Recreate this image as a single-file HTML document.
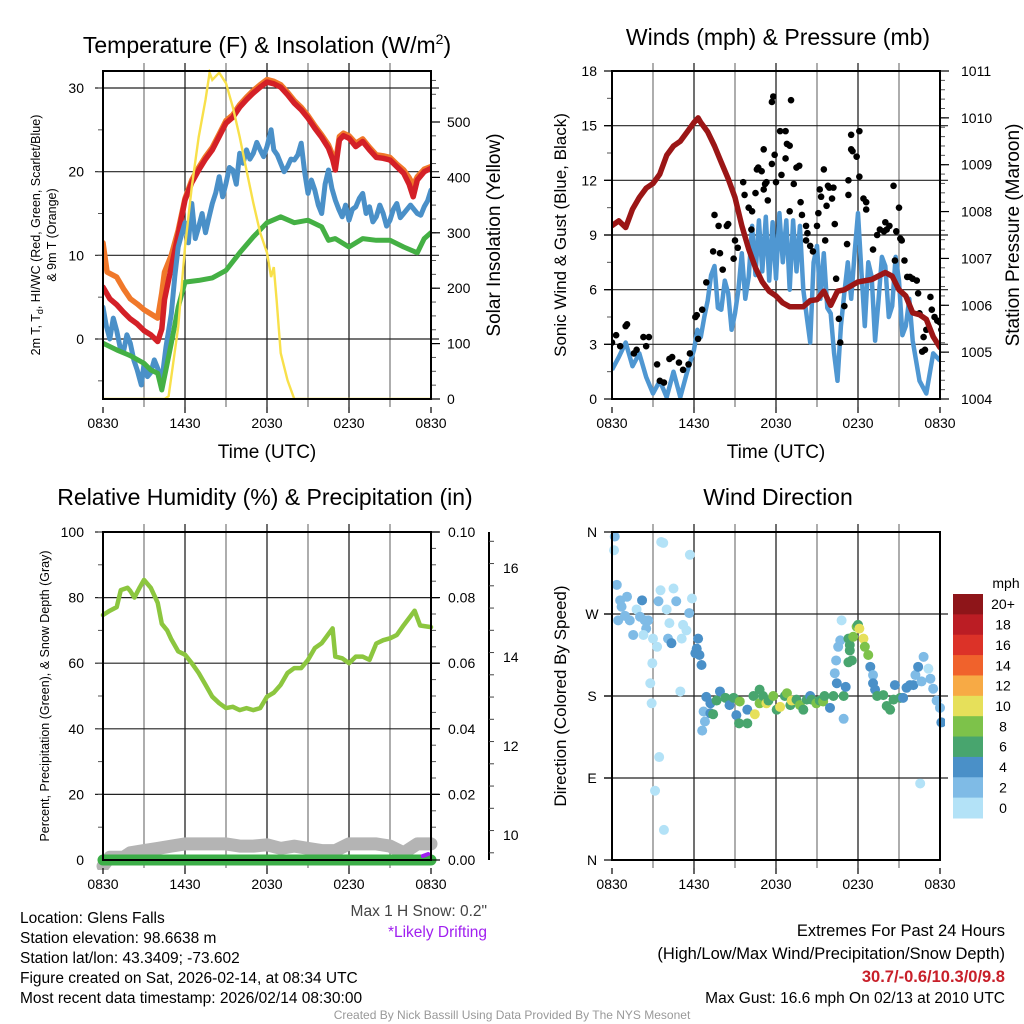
<!DOCTYPE html>
<html><head><meta charset="utf-8"><style>
html,body{margin:0;padding:0;background:#fff;width:1024px;height:1024px;overflow:hidden}
svg text{font-family:"Liberation Sans",sans-serif}
</style></head><body>
<svg id="s" xmlns="http://www.w3.org/2000/svg" width="1024" height="1024" viewBox="0 0 1024 1024">
<g id="g1"></g>
<g id="g2"></g>
<g id="g3"></g>
<g id="g4"></g>
<g id="gt">
<text x="20" y="923" font-size="15.5">Location: Glens Falls</text>
<text x="20" y="943" font-size="15.5">Station elevation: 98.6638 m</text>
<text x="20" y="963" font-size="15.5">Station lat/lon: 43.3409; -73.602</text>
<text x="20" y="983" font-size="15.5">Figure created on Sat, 2026-02-14, at 08:34 UTC</text>
<text x="20" y="1003" font-size="15.5">Most recent data timestamp: 2026/02/14 08:30:00</text>
<text x="487" y="916" font-size="15.5" fill="#444" text-anchor="end">Max 1 H Snow: 0.2"</text>
<text x="487" y="937" font-size="15.5" fill="#a020f0" text-anchor="end">*Likely Drifting</text>
<text x="1005" y="936" font-size="16.5" text-anchor="end">Extremes For Past 24 Hours</text>
<text x="1005" y="959" font-size="16.5" text-anchor="end">(High/Low/Max Wind/Precipitation/Snow Depth)</text>
<text x="1005" y="982" font-size="16.5" font-weight="bold" fill="#c8202a" text-anchor="end">30.7/-0.6/10.3/0/9.8</text>
<text x="1005" y="1003" font-size="15.5" text-anchor="end">Max Gust: 16.6 mph On 02/13 at 2010 UTC</text>
<text x="512" y="1019" font-size="12" fill="#999" text-anchor="middle">Created By Nick Bassill Using Data Provided By The NYS Mesonet</text>
</g>
</svg>
<script>
// ---------- Panel 1 data ----------
const redHours=[0,0.5,1,1.5,2,2.5,3,3.5,4,4.3,4.5,5,5.5,6,6.5,7,7.5,8,8.5,9,9.5,10,10.5,11,11.5,12,12.5,13,13.5,14,14.5,15,15.5,16,16.5,16.8,17,17.3,17.6,18,18.5,19,19.5,20,20.5,21,21.5,22,22.4,22.7,23,23.5,24];
const redVals=[6.2,4.8,4.1,3.2,2.4,1.8,1.0,0.5,-0.3,1.2,4.7,8.6,12.5,16.6,18.7,20.2,21.5,22.6,24.2,25.8,26.5,27.7,28.6,29.4,30.1,30.7,30.5,30.1,29.2,28.2,27.4,26.4,25.2,24.1,22.8,21.5,20.2,23.8,24.3,24.0,23.0,23.6,22.6,21.7,21.6,21.4,20.6,19.8,18.5,17.0,19.0,20.0,20.4];
const orangeHours=[0,0.3,1,1.5,2,2.5,3,3.5,4,4.3,4.5,5,5.5,6,6.5,7,7.5,8,8.5,9,9.5,10,10.5,11,11.5,12,12.5,13,13.5,14,14.5,15,15.5,16,16.5,16.8,17,17.3,17.6,18,18.5,19,19.5,20,20.5,21,21.5,22,22.4,22.7,23,23.5,24];
const orangeVals=[11.5,8.0,7.4,6.0,4.8,4.2,3.5,3.0,2.5,5.5,8.0,10.0,13.0,16.8,19.0,20.5,21.8,22.9,24.5,26.1,26.8,28.0,28.9,29.7,30.4,31.0,30.8,30.4,29.5,28.5,27.7,26.7,25.5,24.4,23.2,22.0,21.0,24.2,24.6,24.3,23.4,23.9,22.9,22.0,21.9,21.7,20.9,20.2,19.3,18.4,19.4,20.3,20.6];
const blueHours=[0,0.25,0.5,0.75,1,1.25,1.5,1.75,2,2.25,2.5,2.8,3,3.25,3.5,3.75,4,4.3,4.6,5,5.25,5.5,5.75,6,6.25,6.5,6.75,7,7.25,7.5,7.75,8,8.25,8.5,8.75,9,9.25,9.5,9.75,10,10.25,10.5,10.75,11,11.25,11.5,11.75,12,12.3,12.5,12.75,13,13.25,13.5,13.75,14,14.25,14.5,14.75,15,15.25,15.5,15.75,16,16.25,16.5,16.75,17,17.25,17.5,17.75,18,18.25,18.5,18.75,19,19.25,19.5,19.75,20,20.25,20.5,20.75,21,21.25,21.5,21.75,22,22.5,23,23.25,23.5,23.75,24];
const blueVals=[3.8,1.5,0,2.5,1.0,-1.0,-1.5,0.5,-0.5,-2.5,-3.7,-5.5,-3.0,-4.5,-4.0,-2.5,-3.5,-5.0,-1.0,3.0,7.5,11.0,12.5,13.9,11.5,16.2,12.0,13.4,15.0,12.7,14.5,16.2,17.5,19.4,17.0,18.6,20.5,20.2,18.5,22.2,21.0,22.6,21.5,22.2,23.5,22.6,21.8,23.0,25.0,22.6,22.0,21.0,20.0,20.6,21.5,21.4,22.0,23.4,20.0,17.4,19.0,17.8,16.0,15.0,18.5,20.2,18.0,16.6,15.5,14.6,16.0,14.2,15.5,15.8,16.8,17.4,15.0,15.8,14.0,14.6,16.0,15.0,13.5,14.2,15.5,16.2,14.5,15.0,16.0,15.0,14.8,15.8,16.5,17.8];
const greenHours=[0,1,2,3,3.5,4,4.3,4.6,5,5.5,6,7,8,9,10,11,12,13,14,15,16,16.5,17,18,19,20,21,22,23,23.5,24];
const greenVals=[-0.5,-1.3,-2.0,-2.9,-3.7,-4.1,-6.1,-3.7,-0.5,3.8,6.8,7.0,7.3,8.2,10.3,12.2,13.9,14.6,13.9,14.2,13.4,11.8,12.0,11.0,12.0,11.8,11.8,11.0,10.3,12.0,12.7];
const solarHours=[0,4.5,4.8,5,5.5,6,6.5,7,7.5,7.8,8,8.5,9,9.5,10,10.5,11,11.5,12,12.3,12.5,12.7,13,13.5,14,24];
const solarVals=[0,0,5,40,130,274,383,473,540,589,576,589,570,527,473,413,354,300,264,220,238,179,83,34,0,0];
const p1Ticks=[0,10,20,30];
const p1RightTicks=[0,100,200,300,400,500];
const timeLabels=["0830","1430","2030","0230","0830"];
// ---------- Panel 2 data ----------
const presHours=[0,0.5,1,1.5,2,2.5,3,3.5,4,4.5,5,5.5,6,6.3,6.5,7,7.5,8,8.5,9,9.5,10,10.5,11,11.5,12,12.5,13,14,14.5,15,15.5,16,16.5,17,18,19,20,20.5,21,21.5,22,22.5,23,23.5,24];
const presVals=[1007.7,1007.8,1007.66,1008.05,1008.3,1008.5,1008.6,1008.8,1009.2,1009.4,1009.5,1009.7,1009.9,1010.0,1009.9,1009.7,1009.4,1009.05,1008.7,1008.3,1007.7,1007.2,1006.8,1006.5,1006.3,1006.2,1006.05,1005.97,1005.97,1006.1,1006.12,1006.3,1006.0,1006.3,1006.33,1006.5,1006.55,1006.7,1006.62,1006.33,1006.2,1005.84,1005.8,1005.7,1005.33,1005.1];
const windHours=[0,0.5,1,1.5,2,2.5,3,3.5,4,4.5,5,5.5,6,6.25,6.5,6.75,7,7.25,7.5,7.75,8,8.25,8.5,8.75,9,9.25,9.5,9.75,10,10.25,10.5,10.75,11,11.25,11.5,11.75,12,12.25,12.5,12.75,13,13.25,13.5,13.75,14,14.25,14.5,14.75,15,15.25,15.5,15.75,16,16.25,16.5,16.75,17,17.25,17.5,17.75,18,18.25,18.5,18.75,19,19.25,19.5,19.75,20,20.25,20.5,20.75,21,21.25,21.5,21.75,22,22.5,23,23.5,24];
const windVals=[1.6,2.3,3.1,1.8,2.5,1.2,0.3,1.0,0.1,1.5,0.1,1.5,2.7,3.8,3.4,4.5,5.4,6.8,7.3,5.0,4.9,6.5,5.8,3.8,4.7,6.0,8.0,5.5,6.7,9.5,6.8,9.8,7.0,10.0,6.5,9.7,6.6,10.2,7.5,9.8,6.0,9.8,7.0,9.5,6.0,4.5,3.1,7.5,8.4,5.5,8.0,5.0,4.7,2.5,1.0,4.0,5.8,7.5,5.5,8.0,10.2,7.0,4.0,7.5,6.7,3.2,5.4,7.8,7.3,4.5,5.1,7.8,6.5,3.5,4.0,5.5,3.2,1.0,0.3,2.5,2.1];
const gustHours=[0,0.3,1,1.1,0.6,1.6,1.8,2.3,2.7,2.5,3.3,3.5,3.8,4.2,4.4,4.9,5.2,5.6,5.7,6.1,6.2,6.3,6.6,6.9,7.4,7.5,7.8,7.9,8.1,8.4,8.5,8.9,9.0,9.2,9.6,9.7,10.0,10.2,10.25,10.5,10.6,10.7,10.95,11.1,11.1,11.2,11.3,11.4,11.7,11.8,11.7,11.9,12.0,12.4,12.7,12.7,12.3,12.8,13.0,13.1,13.3,13.0,13.5,13.7,13.8,13.9,14.2,14.3,14.2,14.5,14.7,15.0,15.1,15.2,15.3,15.5,15.6,15.7,15.8,15.9,16.1,16.2,16.3,16.4,16.6,16.7,17.0,17.2,17.3,17.3,17.5,17.6,17.9,17.5,18.1,18.1,18.4,18.6,18.6,19.1,19.4,19.6,19.9,20.0,20.1,20.3,20.6,20.8,21.0,20.7,21.1,21.2,21.4,21.6,21.8,22.0,22.3,22.4,22.5,22.8,23.0,23.3,23.4,23.6,23.8,24.0,24.1,22.9,22.7];
const gustVals=[3.1,3.5,4.0,4.1,2.9,2.5,2.7,3.4,3.4,2.9,1.9,1.0,0.9,2.2,2.3,2.0,1.6,1.9,2.5,4.5,4.6,3.3,4.9,6.4,8.1,10.1,9.5,8.0,7.1,9.5,9.6,7.7,8.7,8.3,11.9,11.2,10.5,9.3,10.3,11.3,12.6,12.7,12.5,13.7,11.5,11.8,11.9,10.9,16.3,16.6,12.9,13.4,11.9,12.3,13.2,14.7,14.7,14.0,13.9,16.4,11.8,10.3,12.7,12.8,10.8,10.1,9.5,9.1,8.7,8.4,8.1,9.5,10.2,11.5,11.1,12.6,8.7,10.6,11.7,11.6,11.0,11.6,9.6,6.6,4.4,3.1,5.1,8.5,11.2,12.0,13.7,13.6,13.3,14.5,14.7,12.2,11.0,10.8,10.4,8.2,9.0,9.3,9.2,9.7,9.3,9.5,11.7,9.2,10.5,7.6,8.8,8.7,7.6,6.7,6.7,6.6,6.5,5.8,4.7,3.4,3.8,5.6,4.9,4.5,4.3,4.2,3.8,2.7,2.6];
const p2LeftTicks=[0,3,6,9,12,15,18];
const p2RightTicks=[1004,1005,1006,1007,1008,1009,1010,1011];
// ---------- Panel 3 data ----------
const rhHours=[0,0.5,1,1.3,1.8,2,2.3,2.7,3,3.5,4,4.3,4.7,5,5.5,6,6.5,7,7.5,8,8.5,9,9.5,10,10.5,11,11.5,12,12.5,13,13.5,14,14.5,15,15.5,16,16.5,16.8,17,17.5,18,18.5,19,19.5,20,20.5,21,21.5,22,22.5,22.8,23.2,24];
const rhVals=[74.7,76,77.1,82.3,83,82,80,83.2,85.4,83,78.4,72,70,67.3,63.6,62.6,60,57,53.4,49.8,47.8,46.3,46.7,45.7,46.3,45.7,46.3,49.8,51,53.4,57,58.5,58.5,61,64.6,66.1,68.9,70.6,62,61.5,60,62,62,61,66,67,67.6,68.6,71.6,74.3,76,71.5,71];
const snowHours=[0,0.5,1.5,2,3,4,5,6,7,8,9,10,11,12,13,14,15,16,17,18,19,20,21,22,23,24];
const snowVals=[9.3,9.5,9.5,9.6,9.65,9.7,9.75,9.8,9.8,9.8,9.8,9.75,9.75,9.78,9.7,9.75,9.7,9.65,9.65,9.8,9.8,9.8,9.75,9.6,9.8,9.8];
const precipHours=[0,24];
const precipVals=[0,0];
const p3LeftTicks=[0,20,40,60,80,100];
const p3RightTicks=["0.00","0.02","0.04","0.06","0.08","0.10"];
const snowTicks=[10,12,14,16];
// ---------- Panel 4 data ----------
const dirHours=[0.2,0.15,0.35,0.6,0.7,0.45,0.95,1.1,1.3,1.55,1.8,2.2,2.05,2.4,2.65,2.5,2.3,3.0,3.3,3.75,3.6,3.55,3.4,4.0,4.5,4.7,4.2,4.1,4.35,5.2,5.1,5.45,5.7,5.85,5.65,6.3,6.2,6.4,6.55,6.1,5.0,2.8,2.9,2.95,3.45,3.15,3.8,
6.9,7.2,6.7,7.2,6.8,6.6,7.4,7.65,7.9,8.3,8.6,8.9,9.1,9.3,9.35,9.9,9.9,10.35,10.45,10.8,10.8,11.05,11.3,11.45,11.8,12.05,12.3,12.65,12.8,13.05,13.15,13.5,13.75,14.0,14.25,14.5,14.6,14.95,15.2,15.45,15.55,15.95,16.2,16.45,16.95,16.95,17.1,
16.3,16.4,16.55,16.7,16.8,17.3,17.55,17.4,17.3,17.4,17.65,17.9,18.0,18.1,18.4,18.5,18.75,18.9,19.1,19.1,19.25,19.4,19.85,20.1,20.35,20.6,20.7,21.1,21.3,21.55,21.8,22.05,22.2,22.4,22.8,23.15,22.65,23.3,23.5,23.75,24.0,24.1,22.55];
const dirVals=[355,340,302,285,278,263,268,289,263,247,275,285,267,263,263,254,247,243,234,348,349,296,284,275,298,284,260,243,238,258,243,252,335,287,271,243,232,225,214,227,185,194,172,216,113,76,33,
179,172,163,161,152,142,160,175,185,178,170,178,159,150,174,150,165,180,160,187,172,180,172,175,180,165,168,180,183,170,175,176,170,165,176,180,176,172,175,174,180,167,180,194,180,155,190,
205,219,234,241,263,217,219,230,243,236,245,256,258,254,243,234,225,212,203,194,187,180,181,169,165,176,192,178,178,189,192,192,203,212,223,210,196,199,188,175,167,151,84];
const dirSpeeds=[3,1,3,3,3,3,3,3,3,3,1,5,3,3,3,3,1,1,1,1,1,1,3,1,1,3,1,3,5,1,1,1,1,1,3,5,5,5,5,5,1,1,1,1,1,1,1,
5,5,3,5,3,3,7,7,5,7,5,7,5,7,9,7,5,7,11,7,9,7,11,7,9,7,11,7,9,7,11,7,9,7,7,5,7,9,7,9,7,5,7,5,7,3,5,
3,3,3,3,1,7,7,7,7,7,9,9,7,11,11,9,9,5,3,5,5,7,7,7,7,7,5,7,5,5,5,5,3,5,3,1,3,3,3,3,3,5,1];
const speedBins=["0","2","4","6","8","10","12","14","16","18","20+"];
const speedColors=["#b3e2f7","#7fbbe6","#4a90c8","#48a56e","#7dc24a","#e6e05a","#f7aa45","#f0622c","#dc3228","#bb1d24","#8e1519"];
const dirTicks=["N","E","S","W","N"];

// ---------- helpers ----------
const NS="http://www.w3.org/2000/svg";
function mk(parent,tag,attrs,txt){const e=document.createElementNS(NS,tag);for(const k in attrs)e.setAttribute(k,attrs[k]);if(txt!==undefined)e.textContent=txt;parent.appendChild(e);return e;}
function lin(d0,d1,r0,r1){return v=>r0+(v-d0)*(r1-r0)/(d1-d0);}
function pathD(hs,vs,xs,ys){return hs.map((h,i)=>(i?"L":"M")+xs(h).toFixed(1)+","+ys(vs[i]).toFixed(1)).join("");}

function frame(g,x0,x1,y0,y1,hTicksY){
  for(let h=3;h<24;h+=3){const x=x0+(x1-x0)*h/24;
    const l=mk(g,"line",{x1:x,x2:x,y1:y0-8,y2:y1+8,stroke:(h%6?"#777":"#111"),"stroke-width":1.2});
    
    }
  hTicksY.forEach(y=>{const l=mk(g,"line",{x1:x0-8,x2:x1+8,y1:y,y2:y,stroke:"#222","stroke-width":1.2});
    
    });
}
function border(g,x0,x1,y0,y1){
  const r=mk(g,"rect",{x:x0,y:y0,width:x1-x0,height:y1-y0,fill:"none",stroke:"#000","stroke-width":2});
  
  
}
function xLabels(g,x0,x1,y){
  timeLabels.forEach((t,i)=>{const x=x0+(x1-x0)*i/4;
    const e=mk(g,"text",{x:x,y:y,"font-size":14,"text-anchor":"middle"},t);
    
    
    const tk=mk(g,"line",{x1:x,x2:x,y1:y-21,y2:y-15,stroke:"#000","stroke-width":1.2});
    
    });
}
function title(g,x,y,txt,size){const e=mk(g,"text",{x:x,y:y,"font-size":size||23,"text-anchor":"middle"},txt);return e;}
function vlabel(g,x,y,txt,size){const e=mk(g,"text",{x:x,y:y,"font-size":size,"text-anchor":"middle",transform:`rotate(-90 ${x} ${y})`},txt);return e;}
function minorTicks(g,x,ya,yb,n,dir){for(let i=0;i<=n;i++){const y=ya+(yb-ya)*i/n;const l=mk(g,"line",{x1:x,x2:x+dir*5,y1:y,y2:y,stroke:"#555","stroke-width":1});
  
  }}

// ---------- Panel 1 ----------
(function(){
  const g=document.getElementById("g1");
  const X0=103,X1=431,Y0=71,Y1=399;
  const xs=lin(0,24,X0,X1), ys=lin(0,30,339,88), ysR=lin(0,500,399,122);
  frame(g,X0,X1,Y0,Y1,p1Ticks.map(ys));
  minorTicks(g,X0,ys(-5),ys(30),7,-1);
  minorTicks(g,X1,ysR(0),ysR(575),23,1);
  const clip=mk(g,"clipPath",{id:"c1"});mk(clip,"rect",{x:X0,y:Y0-2,width:X1-X0,height:Y1-Y0+2});
  const pg=mk(g,"g",{"clip-path":"url(#c1)"});
  const series=[["orange",orangeHours,orangeVals,"#f0782a",5.5],["red",redHours,redVals,"#d42027",5.5],["blue",blueHours,blueVals,"#4a90c8",5],["green",greenHours,greenVals,"#44b044",5]];
  series.forEach(s=>{const p=mk(pg,"path",{d:pathD(s[1],s[2],xs,ys),fill:"none",stroke:s[3],"stroke-width":s[4],"stroke-linejoin":"round","stroke-linecap":"round"});
    
    });
  const sp=mk(pg,"path",{d:pathD(solarHours,solarVals,xs,ysR),fill:"none",stroke:"#f8e04a","stroke-width":2.4});
  
  
  border(g,X0,X1,Y0,Y1);
  p1Ticks.forEach(v=>{const e=mk(g,"text",{x:84,y:ys(v)+5,"font-size":14,"text-anchor":"end"},v);
    
    });
  p1RightTicks.forEach(v=>{const e=mk(g,"text",{x:447,y:ysR(v)+5,"font-size":14},v);
    
    
    const t=mk(g,"line",{x1:X1,x2:X1+9,y1:ysR(v),y2:ysR(v),stroke:"#000","stroke-width":1.2});
    
    });
  xLabels(g,X0,X1,428);
  const t=mk(g,"text",{x:267,y:53,"font-size":23,"text-anchor":"middle"});
  
  
  t.innerHTML='Temperature (F) &amp; Insolation (W/m<tspan dy="-9" font-size="14">2</tspan><tspan dy="9">)</tspan>';
  const xl=mk(g,"text",{x:267,y:458,"font-size":19,"text-anchor":"middle"},"Time (UTC)");
  
  
  const rl=vlabel(g,500,235,"Solar Insolation (Yellow)",19);
  
  
  const l1=mk(g,"text",{x:40,y:235,"font-size":12.5,"text-anchor":"middle",transform:"rotate(-90 40 235)"});
  l1.innerHTML='2m T, T<tspan dy="3" font-size="9">d</tspan><tspan dy="-3">, HI/WC (Red, Green, Scarlet/Blue)</tspan>';
  
  
  const l2=vlabel(g,56,235,"& 9m T (Orange)",12.5);
  
  
})();

// ---------- Panel 2 ----------
(function(){
  const g=document.getElementById("g2");
  const X0=612,X1=940,Y0=71,Y1=399;
  const xs=lin(0,24,X0,X1), ys=lin(0,18,Y1,Y0), ysR=lin(1004,1011,Y1,Y0);
  frame(g,X0,X1,Y0,Y1,p2LeftTicks.slice(1,-1).map(ys));
  minorTicks(g,X0,ys(0),ys(18),12,-1);
  minorTicks(g,X1,ysR(1004),ysR(1011),35,1);
  const clip=mk(g,"clipPath",{id:"c2"});mk(clip,"rect",{x:X0,y:Y0,width:X1-X0,height:Y1-Y0});
  const pg=mk(g,"g",{"clip-path":"url(#c2)"});
  const wp=mk(pg,"path",{d:pathD(windHours,windVals,xs,ys),fill:"none",stroke:"#4f97d2","stroke-width":4.5,"stroke-linejoin":"round"});
  
  
  gustHours.forEach((h,i)=>{const c=mk(pg,"circle",{cx:xs(h),cy:ys(gustVals[i]),r:3.3,fill:"#000"});
    
    });
  const pp=mk(pg,"path",{d:pathD(presHours,presVals,xs,ysR),fill:"none",stroke:"#9b1616","stroke-width":5.5,"stroke-linejoin":"round","stroke-linecap":"round"});
  
  
  border(g,X0,X1,Y0,Y1);
  p2LeftTicks.forEach(v=>{const e=mk(g,"text",{x:597,y:ys(v)+5,"font-size":14,"text-anchor":"end"},v);
    
    
    const t=mk(g,"line",{x1:X0-8,x2:X0,y1:ys(v),y2:ys(v),stroke:"#000","stroke-width":1.2});
    
    });
  p2RightTicks.forEach(v=>{const e=mk(g,"text",{x:961,y:ysR(v)+5,"font-size":14},v);
    
    
    const t=mk(g,"line",{x1:X1,x2:X1+9,y1:ysR(v),y2:ysR(v),stroke:"#000","stroke-width":1.2});
    
    });
  xLabels(g,X0,X1,428);
  const t=title(g,778,45,"Winds (mph) & Pressure (mb)");
  
  
  const xl=mk(g,"text",{x:776,y:458,"font-size":19,"text-anchor":"middle"},"Time (UTC)");
  
  
  const ll=vlabel(g,566,235,"Sonic Wind & Gust (Blue, Black)",17);
  
  
  const rl=vlabel(g,1019,235,"Station Pressure (Maroon)",19);
  
  
})();

// ---------- Panel 3 ----------
(function(){
  const g=document.getElementById("g3");
  const X0=103,X1=431,Y0=532,Y1=860;
  const xs=lin(0,24,X0,X1), ys=lin(0,100,Y1,Y0), ysS=lin(10,16,835,568);
  frame(g,X0,X1,Y0,Y1,p3LeftTicks.slice(1).map(ys));
  minorTicks(g,X0,Y0,Y1,10,-1);
  minorTicks(g,X1,Y0,Y1,20,1);
  const clip=mk(g,"clipPath",{id:"c3"});mk(clip,"rect",{x:X0-10,y:Y0,width:X1-X0+20,height:Y1-Y0+10});
  const pg=mk(g,"g",{"clip-path":"url(#c3)"});
  const sn=mk(pg,"path",{d:pathD(snowHours,snowVals,xs,ysS),fill:"none",stroke:"#b4b4b4","stroke-width":13,"stroke-linejoin":"round","stroke-linecap":"round"});
  
  
  const pr=mk(pg,"path",{d:pathD(precipHours,precipVals,xs,v=>ys(v)),fill:"none",stroke:"#3cae48","stroke-width":11,"stroke-linecap":"round"});
  
  
  const pu=mk(pg,"path",{d:"M"+xs(23.4)+","+(Y1-4)+"L"+xs(23.8)+","+(Y1-6),fill:"none",stroke:"#a020f0","stroke-width":4,"stroke-linecap":"round"});
  
  
  const rh=mk(pg,"path",{d:pathD(rhHours,rhVals,xs,ys),fill:"none",stroke:"#8cc63f","stroke-width":4.5,"stroke-linejoin":"round","stroke-linecap":"round"});
  
  
  border(g,X0,X1,Y0,Y1);
  p3LeftTicks.forEach(v=>{const e=mk(g,"text",{x:84,y:ys(v)+5,"font-size":14,"text-anchor":"end"},v);
    
    });
  p3RightTicks.forEach((v,i)=>{const y=ys(i*20);const e=mk(g,"text",{x:448,y:y+5,"font-size":14},v);
    
    
    const t=mk(g,"line",{x1:X1,x2:X1+9,y1:y,y2:y,stroke:"#000","stroke-width":1.2});
    
    });
  const ax=mk(g,"line",{x1:489,x2:489,y1:Y0,y2:Y1,stroke:"#000","stroke-width":2});
  
  
  for(let v=9.6;v<=16.6;v+=0.5){const y=ysS(v);if(y<Y0||y>Y1)continue;const t=mk(g,"line",{x1:489,x2:Math.abs(v-Math.round(v))<0.01&&Math.round(v)%2===0?497:494,y1:y,y2:y,stroke:"#444","stroke-width":1});
    
    }
  snowTicks.forEach(v=>{const e=mk(g,"text",{x:503,y:ysS(v)+5,"font-size":14},v);
    
    });
  xLabels(g,X0,X1,889);
  const t=title(g,265,505,"Relative Humidity (%) & Precipitation (in)");
  
  
  const ll=vlabel(g,49,696,"Percent, Precipitation (Green), & Snow Depth (Gray)",12.5);
  
  
})();

// ---------- Panel 4 ----------
(function(){
  const g=document.getElementById("g4");
  const X0=612,X1=940,Y0=532,Y1=860;
  const xs=lin(0,24,X0,X1), ys=lin(0,360,Y1,Y0);
  frame(g,X0,X1,Y0,Y1,[90,180,270].map(ys));
  const clip=mk(g,"clipPath",{id:"c4"});mk(clip,"rect",{x:X0-5,y:Y0-5,width:X1-X0+10,height:Y1-Y0+10});
  const pg=mk(g,"g",{"clip-path":"url(#c4)"});
  function col(s){let i=Math.floor(s/2);if(i>10)i=10;return speedColors[i];}
  dirHours.forEach((h,i)=>{const c=mk(pg,"circle",{cx:xs(h),cy:ys(dirVals[i]),r:5,fill:col(dirSpeeds[i])});
    
    });
  border(g,X0,X1,Y0,Y1);
  dirTicks.forEach((v,i)=>{const y=ys(i*90);const e=mk(g,"text",{x:592,y:y+5,"font-size":14,"text-anchor":"middle"},v);
    
    
    const t=mk(g,"line",{x1:X0-8,x2:X0,y1:y,y2:y,stroke:"#000","stroke-width":1.2});
    
    });
  xLabels(g,X0,X1,889);
  const t=title(g,778,505,"Wind Direction");
  
  
  const ll=vlabel(g,566,696,"Direction (Colored By Speed)",17);
  
  
  const cb=mk(g,"g",{});
  
  
  const bh=224/speedBins.length;
  speedBins.forEach((lab,i)=>{const k=speedBins.length-1-i;const y=594+i*bh;
    const r=mk(cb,"rect",{x:953,y:y,width:30,height:bh+0.5,fill:speedColors[k]});
    
    
    const e=mk(cb,"text",{x:1003,y:y+bh/2+5,"font-size":14,"text-anchor":"middle"},speedBins[k]);
    
    });
  const m=mk(cb,"text",{x:1006,y:588,"font-size":14,"text-anchor":"middle"},"mph");
  
  
})();
</script>
</body></html>
